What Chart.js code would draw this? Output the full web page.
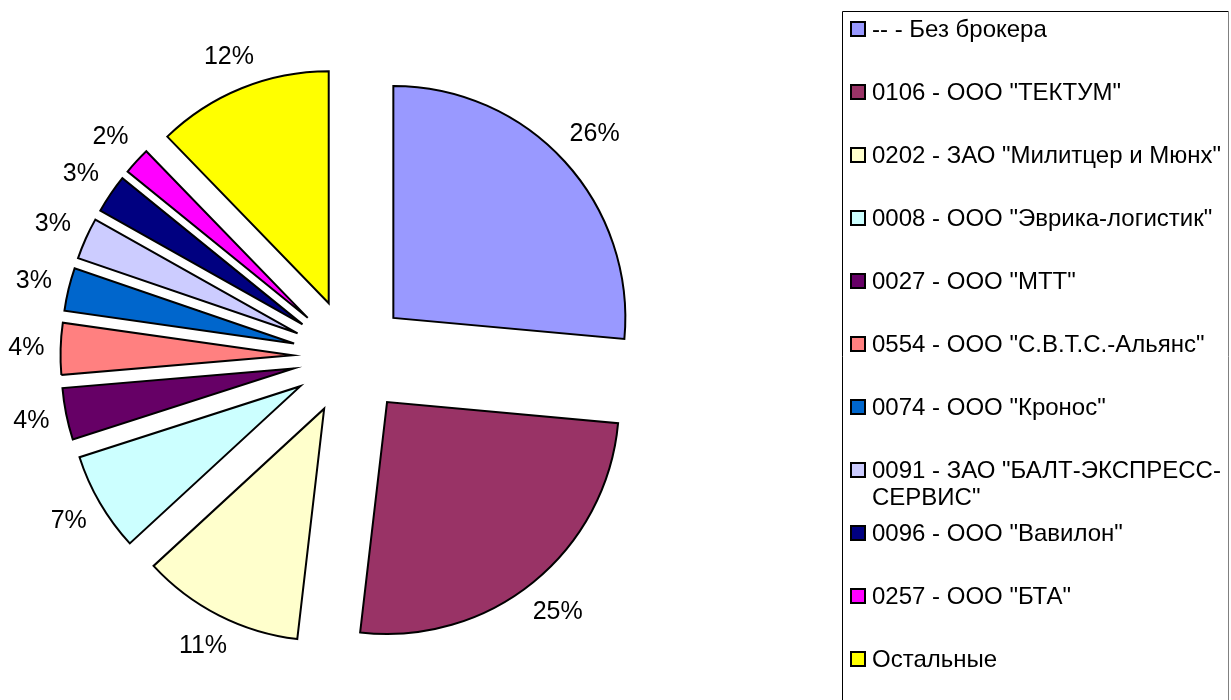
<!DOCTYPE html>
<html>
<head>
<meta charset="utf-8">
<script src="https://cdn.jsdelivr.net/npm/chart.js@4/dist/chart.umd.min.js"></script>
<style>
    html, body { margin: 0; padding: 0; background: #fff; }
    #wrap { width: 1231px; height: 700px; }
</style>
</head>
<body>
<div id="wrap"><canvas id="brokerChart" width="1231" height="700"></canvas></div>
<script>
// данные по брокерам (доли в %)
const brokers = [
    '-- - Без брокера',
    '0106 - ООО "ТЕКТУМ"',
    '0202 - ЗАО "Милитцер и Мюнх"',
    '0008 - ООО "Эврика-логистик"',
    '0027 - ООО "МТТ"',
    '0554 - ООО "С.В.Т.С.-Альянс"',
    '0074 - ООО "Кронос"',
    '0091 - ЗАО "БАЛТ-ЭКСПРЕСС-СЕРВИС"',
    '0096 - ООО "Вавилон"',
    '0257 - ООО "БТА"',
    'Остальные'
];
const shares = [26.45, 25.4, 11.3, 6.9, 3.6, 3.6, 3.0, 2.9, 2.7, 1.9, 12.25];
const sliceColors = [
    '#9999FF', '#993366', '#FFFFCC', '#CCFFFF', '#660066', '#FF8080',
    '#0066CC', '#CCCCFF', '#000080', '#FF00FF', '#FFFF00'
];

const EXPLODE = 58;      // вынос секторов от центра
const LABEL_GAP = 16;
const FONT = '"Liberation Sans", Arial, sans-serif';

function wrapText(ctx, text, maxWidth) {
    const parts = text.split(/(?<=[-\s])/);
    const lines = [];
    let cur = '';
    parts.forEach(p => {
        if (cur && ctx.measureText(cur + p).width > maxWidth) {
            lines.push(cur.trimEnd());
            cur = p.trimStart();
        } else {
            cur += p;
        }
    });
    if (cur) lines.push(cur);
    return lines;
}

const explodedPie = {
    id: 'explodedPie',
    beforeDatasetDraw(chart, args) {
        const ctx = chart.ctx;
        args.meta.data.forEach(arc => {
            const mid = (arc.startAngle + arc.endAngle) / 2;
            ctx.save();
            ctx.translate(Math.cos(mid) * EXPLODE, Math.sin(mid) * EXPLODE);
            arc.draw(ctx);
            ctx.restore();
        });
        return false;
    },
    afterDraw(chart) {
        const ctx = chart.ctx;
        const meta = chart.getDatasetMeta(0);
        const values = chart.data.datasets[0].data;
        const total = values.reduce((a, b) => a + b, 0);

        // подписи процентов
        ctx.save();
        ctx.font = '25px ' + FONT;
        ctx.fillStyle = '#000';
        ctx.textAlign = 'center';
        ctx.textBaseline = 'middle';
        meta.data.forEach((arc, i) => {
            const txt = Math.round(values[i] / total * 100) + '%';
            const w = ctx.measureText(txt).width;
            const mid = (arc.startAngle + arc.endAngle) / 2;
            const ux = Math.cos(mid), uy = Math.sin(mid);
            const d = EXPLODE + arc.outerRadius + LABEL_GAP + Math.abs(ux) * w / 2 + Math.abs(uy) * 9;
            ctx.fillText(txt, arc.x + ux * d, arc.y + uy * d);
        });
        ctx.restore();

        // легенда в рамке
        ctx.save();
        ctx.strokeStyle = '#000';
        ctx.lineWidth = 1;
        ctx.beginPath();
        ctx.moveTo(842.5, 720);
        ctx.lineTo(842.5, 11.5);
        ctx.lineTo(1228.5, 11.5);
        ctx.stroke();
        ctx.strokeStyle = '#808080';
        ctx.beginPath();
        ctx.moveTo(1228.5, 11.5);
        ctx.lineTo(1228.5, 720);
        ctx.stroke();

        ctx.font = '24px ' + FONT;
        ctx.textAlign = 'left';
        ctx.textBaseline = 'middle';
        const colors = chart.data.datasets[0].backgroundColor;
        chart.data.labels.forEach((name, i) => {
            const cy = 29 + i * 63;
            ctx.fillStyle = colors[i];
            ctx.fillRect(850, cy - 8, 16, 16);
            ctx.strokeStyle = '#000';
            ctx.lineWidth = 2;
            ctx.strokeRect(851, cy - 7, 14, 14);
            ctx.fillStyle = '#000';
            wrapText(ctx, name, 354).forEach((line, k) => {
                ctx.fillText(line, 872, cy + 1 + k * 27);
            });
        });
        ctx.restore();
    }
};

const ctx = document.getElementById('brokerChart').getContext('2d');
const brokerChart = new Chart(ctx, {
    type: 'pie',
    data: {
        labels: brokers,
        datasets: [{
            data: shares,
            backgroundColor: sliceColors,
            borderColor: '#000',
            borderWidth: 2,
            borderJoinStyle: 'miter',
            radius: 232
        }]
    },
    options: {
        responsive: false,
        animation: false,
        layout: { padding: { top: 14, right: 530, bottom: 0, left: 0 } },
        plugins: {
            legend: { display: false },
            tooltip: { enabled: false }
        }
    },
    plugins: [explodedPie]
});
</script>
</body>
</html>
